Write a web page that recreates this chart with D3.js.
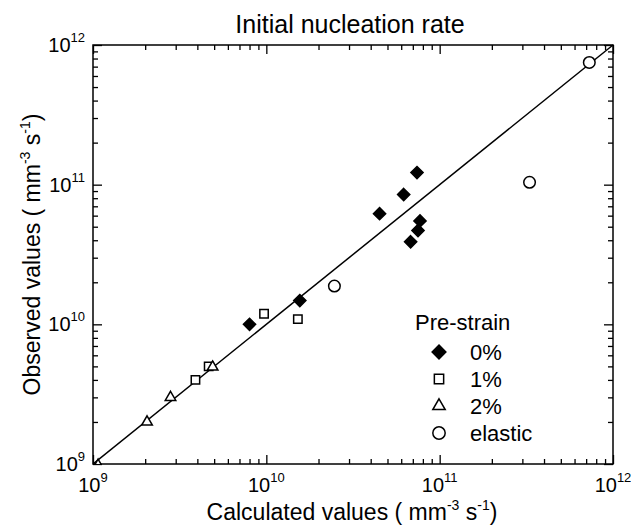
<!DOCTYPE html>
<html><head><meta charset="utf-8">
<script src="https://cdn.jsdelivr.net/npm/d3@7"></script>
<style>
body{margin:0;background:#fff;}
text{font-family:"Liberation Sans",Arial,sans-serif;fill:#000;}
</style></head>
<body>
<svg id="chart" width="631" height="528"></svg>
<script>
// ---- data ----
const title = "Initial nucleation rate";
const decadeTicks = [1e9, 1e10, 1e11, 1e12];
const decadeExponents = ["9", "10", "11", "12"];
const seriesNames = ["0%", "1%", "2%", "elastic"];
const calc0 = [7.4e10, 6.2e10, 4.5e10, 7.7e10, 7.5e10, 6.8e10, 1.56e10, 8.0e9];
const obs0  = [1.22e11, 8.5e10, 6.2e10, 5.5e10, 4.7e10, 3.9e10, 1.48e10, 1.0e10];
const calc1 = [9.7e9, 1.52e10, 3.9e9, 4.65e9];
const obs1  = [1.19e10, 1.09e10, 4.0e9, 5.0e9];
const calc2 = [1.07e9, 2.05e9, 2.8e9, 4.9e9];
const obs2  = [0.98e9, 2.0e9, 3.0e9, 4.95e9];
const calcE = [7.3e11, 3.3e11, 2.47e10];
const obsE  = [7.5e11, 1.04e11, 1.88e10];

const svg = d3.select("#chart");
const L = 93, R = 613, T = 45, B = 464;
const x = d3.scaleLog().domain([1e9, 1e12]).range([L, R]);
const y = d3.scaleLog().domain([1e9, 1e12]).range([B, T]);

const minorTicks = [];
for (let e = 9; e < 12; e++) for (let k = 2; k <= 9; k++) minorTicks.push(k * Math.pow(10, e));

function axisDraw(axisFn, scale, vals, size, transform) {
  const g = svg.append("g").attr("transform", transform)
    .call(axisFn(scale).tickValues(vals).tickSize(size).tickSizeOuter(0).tickFormat(""));
  g.select(".domain").remove();
  g.selectAll("line").attr("stroke", "#000").attr("stroke-width", 1.3);
}
axisDraw(d3.axisBottom, x, decadeTicks, -9, `translate(0,${B})`);
axisDraw(d3.axisBottom, x, minorTicks, -5, `translate(0,${B})`);
axisDraw(d3.axisTop, x, decadeTicks, -9, `translate(0,${T})`);
axisDraw(d3.axisTop, x, minorTicks, -5, `translate(0,${T})`);
axisDraw(d3.axisLeft, y, decadeTicks, -9, `translate(${L},0)`);
axisDraw(d3.axisLeft, y, minorTicks, -5, `translate(${L},0)`);
axisDraw(d3.axisRight, y, decadeTicks, -9, `translate(${R},0)`);
axisDraw(d3.axisRight, y, minorTicks, -5, `translate(${R},0)`);

svg.append("rect").attr("x", L).attr("y", T).attr("width", R - L).attr("height", B - T)
  .attr("fill", "none").attr("stroke", "#000").attr("stroke-width", 1.5);

decadeTicks.forEach((v, i) => {
  const t = svg.append("text").attr("x", x(v)).attr("y", 492)
    .attr("text-anchor", "middle").style("font-size", "20px");
  t.append("tspan").text("10");
  t.append("tspan").attr("dy", -10).style("font-size", "13px").text(decadeExponents[i]);
  const t2 = svg.append("text").attr("x", 85).attr("y", y(v) + 7)
    .attr("text-anchor", "end").style("font-size", "20px");
  t2.append("tspan").text("10");
  t2.append("tspan").attr("dy", -10).style("font-size", "13px").text(decadeExponents[i]);
});

svg.append("text").attr("x", (L + R) / 2 - 3).attr("y", 33).attr("text-anchor", "middle")
  .style("font-size", "25px").text(title);

function unitTitle(sel, prefix) {
  sel.append("tspan").text(prefix + " ( mm");
  sel.append("tspan").attr("dy", -10).style("font-size", "14px").text("-3");
  sel.append("tspan").attr("dy", 10).text(" s");
  sel.append("tspan").attr("dy", -10).style("font-size", "14px").text("-1");
  sel.append("tspan").attr("dy", 10).text(")");
}
unitTitle(svg.append("text").attr("x", (L + R) / 2 - 1).attr("y", 520)
  .attr("text-anchor", "middle").style("font-size", "23px"), "Calculated values");
unitTitle(svg.append("text").attr("transform", `translate(40,${(T + B) / 2}) rotate(-90)`)
  .attr("text-anchor", "middle").style("font-size", "23px"), "Observed values");

svg.append("clipPath").attr("id", "clip").append("rect")
  .attr("x", L).attr("y", T - 12).attr("width", R - L + 12).attr("height", B - T + 12);

const plot = svg.append("g").attr("clip-path", "url(#clip)");

plot.append("line").attr("x1", x(1e9)).attr("y1", y(1e9)).attr("x2", x(1e12)).attr("y2", y(1e12))
  .attr("stroke", "#000").attr("stroke-width", 1.5);

const symDiamond = d3.symbol().type(d3.symbolDiamond2).size(95)();
const symSquare = d3.symbol().type(d3.symbolSquare2).size(90)();
const symTriangle = d3.symbol().type(d3.symbolTriangle2).size(80)();
const symCircle = d3.symbol().type(d3.symbolCircle).size(105)();

function drawSeries(cx, cy, path, filled) {
  plot.append("g").selectAll("path").data(cx).join("path")
    .attr("d", path)
    .attr("transform", (d, i) => `translate(${x(d)},${y(cy[i])})`)
    .attr("fill", filled ? "#000" : "#fff")
    .attr("stroke", "#000").attr("stroke-width", 1.5);
}
drawSeries(calcE, obsE, symCircle, false);
drawSeries(calc1, obs1, symSquare, false);
drawSeries(calc2, obs2, symTriangle, false);
drawSeries(calc0, obs0, symDiamond, true);

svg.append("text").attr("x", 415).attr("y", 330).style("font-size", "22px").text("Pre-strain");
const legSyms = [
  [d3.symbol().type(d3.symbolDiamond2).size(120)(), true],
  [d3.symbol().type(d3.symbolSquare2).size(110)(), false],
  [d3.symbol().type(d3.symbolTriangle2).size(110)(), false],
  [d3.symbol().type(d3.symbolCircle).size(120)(), false]];
seriesNames.forEach((n, i) => {
  const cy = 352 + i * 27;
  svg.append("path").attr("d", legSyms[i][0]).attr("transform", `translate(439,${cy})`)
    .attr("fill", legSyms[i][1] ? "#000" : "#fff").attr("stroke", "#000").attr("stroke-width", 1.5);
  svg.append("text").attr("x", 470).attr("y", cy + 8).style("font-size", "22px").text(n);
});
</script>
</body></html>
